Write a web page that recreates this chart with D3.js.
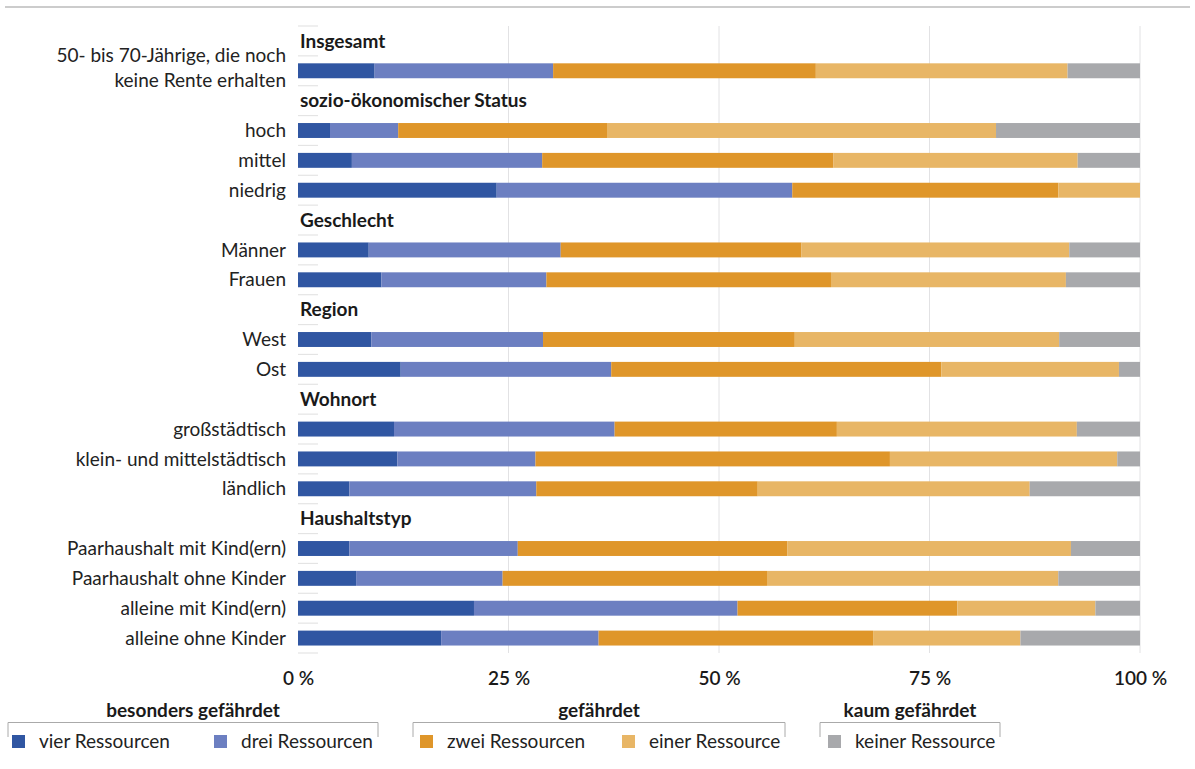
<!DOCTYPE html>
<html>
<head>
<meta charset="utf-8">
<script src="https://cdn.jsdelivr.net/npm/d3@7"></script>
<style>
  body { margin: 0; background: #fff; }
  svg { display: block; font-family: Lato, "Open Sans", sans-serif; }
</style>
</head>
<body>
<svg id="chart" width="1195" height="769"></svg>
<script>
// rows in drawing order; header rows carry no values
const rowLabels = [
  "Insgesamt", "50- bis 70-Jährige, die noch|keine Rente erhalten",
  "sozio-ökonomischer Status", "hoch", "mittel", "niedrig",
  "Geschlecht", "Männer", "Frauen",
  "Region", "West", "Ost",
  "Wohnort", "großstädtisch", "klein- und mittelstädtisch", "ländlich",
  "Haushaltstyp", "Paarhaushalt mit Kind(ern)", "Paarhaushalt ohne Kinder", "alleine mit Kind(ern)", "alleine ohne Kinder"
];
const headerRows = ["Insgesamt", "sozio-ökonomischer Status", "Geschlecht", "Region", "Wohnort", "Haushaltstyp"];

const seriesNames = ["vier Ressourcen", "drei Ressourcen", "zwei Ressourcen", "einer Ressource", "keiner Ressource"];
const seriesColors = ["#3056a2", "#6c7fc1", "#df962a", "#e8b666", "#a8a9ac"];

// percent per row, order: vier, drei, zwei, einer, keiner
const vier   = [9.1, 3.8, 6.4, 23.6, 8.4, 9.9, 8.7, 12.2, 11.4, 11.8, 6.1, 6.1, 6.9, 20.9, 17.0];
const drei   = [21.2, 8.1, 22.6, 35.1, 22.8, 19.6, 20.4, 25.0, 26.2, 16.4, 22.2, 20.0, 17.4, 31.3, 18.7];
const zwei   = [31.2, 24.8, 34.6, 31.6, 28.6, 33.8, 29.9, 39.2, 26.4, 42.1, 26.3, 32.0, 31.4, 26.1, 32.6];
const einer  = [29.9, 46.2, 29.0, 9.7, 31.8, 27.9, 31.4, 21.1, 28.5, 27.0, 32.3, 33.7, 34.6, 16.4, 17.5];
const keiner = [8.6, 17.1, 7.4, 0.0, 8.4, 8.8, 9.6, 2.5, 7.5, 2.7, 13.1, 8.2, 9.7, 5.3, 14.2];

const xTicks = [0, 25, 50, 75, 100];

const legendGroups = [
  {title: "besonders gefährdet", x0: 8, x1: 378},
  {title: "gefährdet", x0: 413, x1: 785},
  {title: "kaum gefährdet", x0: 820, x1: 1000}
];
const legendX = [12, 214, 420, 622, 828];

const fs = 19;
const svg = d3.select("#chart");

const x = d3.scaleLinear().domain([0, 100]).range([298, 1140]);
const y = d3.scaleBand().domain(d3.range(rowLabels.length))
    .range([26, 653]).paddingInner(0.5).paddingOuter(0.25);
const step = y.step();
const bw = y.bandwidth();

// top rule
svg.append("line").attr("x1", 5).attr("x2", 1190).attr("y1", 7).attr("y2", 7)
    .attr("stroke", "#999").attr("stroke-width", 1.2);

// vertical gridlines
svg.append("g").selectAll("line").data(xTicks.filter(d => d > 0)).join("line")
    .attr("x1", d => x(d)).attr("x2", d => x(d))
    .attr("y1", 26).attr("y2", 653)
    .attr("stroke", "#e2e2e4").attr("stroke-width", 1);

// short row separators
const bounds = d3.range(rowLabels.length + 1).map(i => 26 + step * i);
svg.append("g").selectAll("line").data(bounds).join("line")
    .attr("x1", 298).attr("x2", 318)
    .attr("y1", d => d).attr("y2", d => d)
    .attr("stroke", "#e4e4e4").attr("stroke-width", 1.2);

// build stacked data
const dataRows = rowLabels.map((l, i) => ({label: l, i})).filter(r => !headerRows.includes(r.label));
const table = dataRows.map((r, k) => ({
  row: r.i, vier: vier[k], drei: drei[k], zwei: zwei[k], einer: einer[k], keiner: keiner[k]
}));
const keys = ["vier", "drei", "zwei", "einer", "keiner"];
const stack = d3.stack().keys(keys)(table);

svg.append("g").selectAll("g").data(stack).join("g")
    .attr("fill", (d, i) => seriesColors[i])
  .selectAll("rect").data(d => d).join("rect")
    .attr("x", d => x(d[0]))
    .attr("width", d => Math.max(0, x(d[1]) - x(d[0])))
    .attr("y", d => y(d.data.row))
    .attr("height", bw);

// headers
svg.append("g").selectAll("text").data(rowLabels.map((l, i) => ({l, i})).filter(d => headerRows.includes(d.l)))
  .join("text")
    .attr("x", 300).attr("y", d => y(d.i) + bw / 2)
    .attr("dy", "0.35em")
    .attr("font-size", fs).attr("font-weight", "bold").attr("fill", "#1a1a1a")
    .text(d => d.l);

// left labels
const lab = svg.append("g").selectAll("text").data(dataRows).join("text")
    .attr("text-anchor", "end")
    .attr("font-size", fs).attr("fill", "#222");
lab.each(function(d) {
  const parts = d.label.split("|");
  const t = d3.select(this);
  const cy = y(d.i) + bw / 2;
  if (parts.length === 1) {
    t.attr("x", 286).attr("y", cy).attr("dy", "0.35em").text(parts[0]);
  } else {
    t.append("tspan").attr("x", 286).attr("y", cy - 9).text(parts[0]);
    t.append("tspan").attr("x", 286).attr("y", cy + 16).text(parts[1]);
  }
});

// x axis labels
const xAxis = d3.axisBottom(x).tickValues(xTicks).tickSize(0).tickFormat(d => d + " %");
const gx = svg.append("g").attr("transform", "translate(0,678)").call(xAxis);
gx.select(".domain").remove();
gx.selectAll("text").attr("y", 0).attr("dy", "0.35em")
    .attr("font-family", "Lato, sans-serif").attr("font-size", fs)
    .attr("font-weight", 600).attr("fill", "#1a1a1a");

// legend
const lg = svg.append("g");
legendGroups.forEach(g => {
  lg.append("text").attr("x", (g.x0 + g.x1) / 2).attr("y", 710).attr("dy", "0.35em")
    .attr("text-anchor", "middle").attr("font-size", fs).attr("font-weight", "bold")
    .attr("fill", "#1a1a1a").text(g.title);
  lg.append("path")
    .attr("d", `M${g.x0},737V722.5H${g.x1}V737`)
    .attr("fill", "none").attr("stroke", "#aaa").attr("stroke-width", 1);
});
seriesNames.forEach((s, i) => {
  lg.append("rect").attr("x", legendX[i]).attr("y", 735).attr("width", 13).attr("height", 13)
    .attr("fill", seriesColors[i]);
  lg.append("text").attr("x", legendX[i] + 27).attr("y", 741.5).attr("dy", "0.35em")
    .attr("font-size", fs).attr("fill", "#222").text(s);
});
</script>
</body>
</html>
